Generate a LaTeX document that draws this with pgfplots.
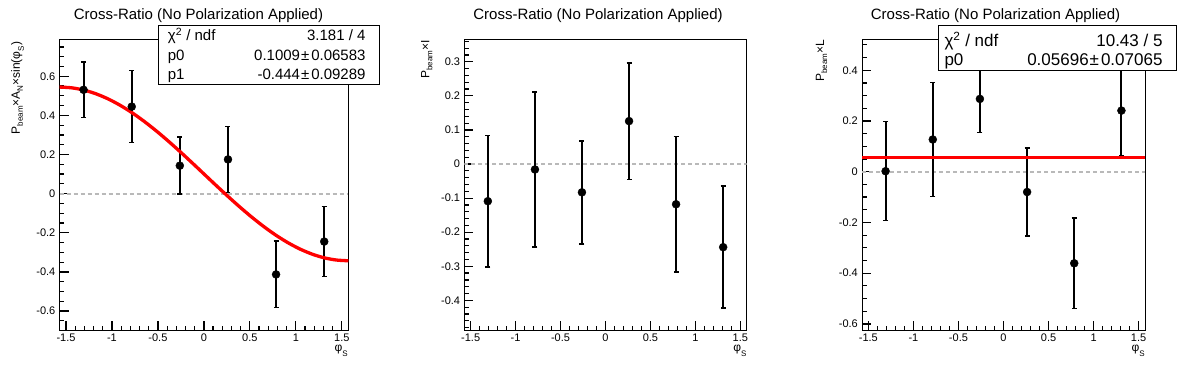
\documentclass[border=0pt]{standalone}
\usepackage{pgfplots}
\pgfplotsset{compat=1.18}
\usepackage{fontspec}
\setmainfont{Liberation Sans}
\definecolor{zeroline}{RGB}{185,185,185}
\definecolor{fitred}{RGB}{255,0,0}
\newcommand{\rsub}[2][3pt]{\raisebox{-#1}{\fontsize{8}{9}\selectfont #2}}
\pgfplotsset{
  rootax/.style={
    scale only axis,
    anchor=south west,
    axis line style={line width=1pt},
    xmin=-1.5708, xmax=1.5708,
    tick align=inside,
    xtick pos=left, ytick pos=left,
    xmajorticks=true, ymajorticks=true,
    major tick length=9pt, minor tick length=4.5pt,
    every tick/.append style={draw=black, line width=1.2pt},
    xtick={-1.5,-1,-0.5,0,0.5,1,1.5},
    minor xtick={-1.5,-1.4,...,1.5},
    /pgf/number format/assume math mode=true,
    ticklabel style={font=\fontsize{11}{13}\selectfont},
    xticklabel style={inner sep=0pt, yshift=-4pt},
    yticklabel style={inner sep=0pt, xshift=-4pt},
  },
  datapts/.style={black, mark=*, mark size=4pt, only marks,
     mark options={fill=black},
     error bars/.cd, y dir=both, y explicit,
     error mark=|,
     error bar style={line width=2pt, black},
     error mark options={line width=1.5pt, mark size=2.5pt, black}},
}
\pgfplotstableread{
x y e
-1.309 0.531 0.141
-0.785 0.445 0.184
-0.262 0.143 0.146
0.262 0.175 0.168
0.785 -0.413 0.170
1.309 -0.245 0.179
}\dataA
\pgfplotstableread{
x y e
-1.309 -0.109 0.193
-0.785 -0.016 0.227
-0.262 -0.083 0.151
0.262 0.126 0.171
0.785 -0.118 0.199
1.309 -0.244 0.179
}\dataB
\pgfplotstableread{
x y e
-1.309 0.002 0.195
-0.785 0.127 0.224
-0.262 0.287 0.133
0.262 -0.080 0.173
0.785 -0.361 0.178
1.309 0.241 0.180
}\dataC
\pgfplotstableread{
x y
-1.5708 0.5449
-1.4399 0.5411
-1.3090 0.5298
-1.1781 0.5111
-1.0472 0.4854
-0.9163 0.4532
-0.7854 0.4149
-0.6545 0.3712
-0.5236 0.3229
-0.3927 0.2708
-0.2618 0.2158
-0.1309 0.1589
0 0.1009
0.1309 0.0429
0.2618 -0.0140
0.3927 -0.0690
0.5236 -0.1211
0.6545 -0.1694
0.7854 -0.2131
0.9163 -0.2513
1.0472 -0.2836
1.1781 -0.3093
1.3090 -0.3280
1.4399 -0.3393
1.5708 -0.3431
}\fitA
\begin{document}
\begin{tikzpicture}
\path[use as bounding box] (0,0) rectangle (1196pt,372pt);
% Panel 1
\begin{axis}[rootax, at={(59.5pt,42pt)}, width=288.8pt, height=290.7pt,
  ymin=-0.697, ymax=0.789,
  ytick={-0.6,-0.4,-0.2,0,0.2,0.4,0.6},
  minor ytick={-0.65,-0.55,-0.5,-0.45,-0.35,-0.3,-0.25,-0.15,-0.1,-0.05,0.05,0.1,0.15,0.25,0.3,0.35,0.45,0.5,0.55,0.65,0.7,0.75}]
\addplot[zeroline, line width=2pt, dash pattern=on 4pt off 3pt] coordinates {(-1.5708,0) (1.5708,0)};
\addplot+[datapts] table[x=x, y=y, y error=e] {\dataA};
\addplot[fitred, line width=3.3pt, smooth] table[x=x, y=y] {\fitA};
\end{axis}
% Panel 2
\begin{axis}[rootax, at={(464.3pt,42pt)}, width=282.4pt, height=290.7pt,
  ymin=-0.487, ymax=0.366,
  ytick={-0.4,-0.3,-0.2,-0.1,0,0.1,0.2,0.3},
  minor ytick={-0.48,-0.46,...,0.36}]
\addplot[zeroline, line width=2pt, dash pattern=on 4pt off 3pt] coordinates {(-1.5708,0) (1.5708,0)};
\addplot+[datapts] table[x=x, y=y, y error=e] {\dataB};
\end{axis}
% Panel 3
\begin{axis}[rootax, at={(862pt,42pt)}, width=283pt, height=290.7pt,
  ymin=-0.624, ymax=0.522,
  ytick={-0.6,-0.4,-0.2,0,0.2,0.4},
  minor ytick={-0.6,-0.55,...,0.5}]
\addplot[zeroline, line width=2pt, dash pattern=on 4pt off 3pt] coordinates {(-1.5708,0) (1.5708,0)};
\addplot+[datapts] table[x=x, y=y, y error=e] {\dataC};
\addplot[fitred, line width=3.3pt] coordinates {(-1.5708,0.05696) (1.5708,0.05696)};
\end{axis}
% titles
\foreach \cx in {198.5,598,995.5}{
  \node[anchor=base, inner sep=0pt, font=\fontsize{15}{18}\selectfont] at (\cx pt,352pt) {Cross-Ratio (No Polarization Applied)};
}
% y labels
\node[rotate=90, anchor=base east, inner sep=0pt, font=\fontsize{12}{14}\selectfont] at (20pt,330.3pt)
  {P\rsub{beam}×A\rsub{N}×sin(φ\rsub[4pt]{S})};
\node[rotate=90, anchor=base east, inner sep=0pt, font=\fontsize{12}{14}\selectfont] at (429.3pt,332pt)
  {P\rsub{beam}×I};
\node[rotate=90, anchor=base east, inner sep=0pt, font=\fontsize{12}{14}\selectfont] at (824pt,332pt)
  {P\rsub{beam}×L};
% x labels
\foreach \rx in {348,746.7,1145}{
  \node[anchor=base east, inner sep=0pt, font=\fontsize{12}{14}\selectfont] at (\rx pt,20.5pt) {φ\rsub[5pt]{S}};
}
% stats box 1
\draw[line width=1pt, fill=white] (158.3pt,346pt) rectangle (379pt,287.7pt);
\begin{scope}[every node/.style={inner sep=0pt, font=\fontsize{15}{18}\selectfont}]
\node[anchor=base west] at (167.7pt,331.7pt) {χ\textsuperscript{2} / ndf};
\node[anchor=base east] at (365.7pt,331.7pt) {3.181 / 4};
\node[anchor=base west] at (167.7pt,311.7pt) {p0};
\node[anchor=base east] at (365.7pt,311.7pt) {0.1009{\kern1pt}±{\kern2pt}0.06583};
\node[anchor=base west] at (167.7pt,292pt) {p1};
\node[anchor=base east] at (365.7pt,292pt) {-0.444{\kern1pt}±{\kern2pt}0.09289};
\end{scope}
% stats box 3
\draw[line width=1pt, fill=white] (938.7pt,346pt) rectangle (1176pt,301.7pt);
\begin{scope}[every node/.style={inner sep=0pt, font=\fontsize{17}{20}\selectfont}]
\node[anchor=base west] at (944.3pt,325.3pt) {χ\textsuperscript{2} / ndf};
\node[anchor=base east] at (1162.7pt,325.3pt) {10.43 / 5};
\node[anchor=base west] at (944.3pt,306.3pt) {p0};
\node[anchor=base east] at (1162.7pt,306.3pt) {0.05696{\kern1pt}±{\kern2pt}0.07065};
\end{scope}
\end{tikzpicture}
\end{document}
